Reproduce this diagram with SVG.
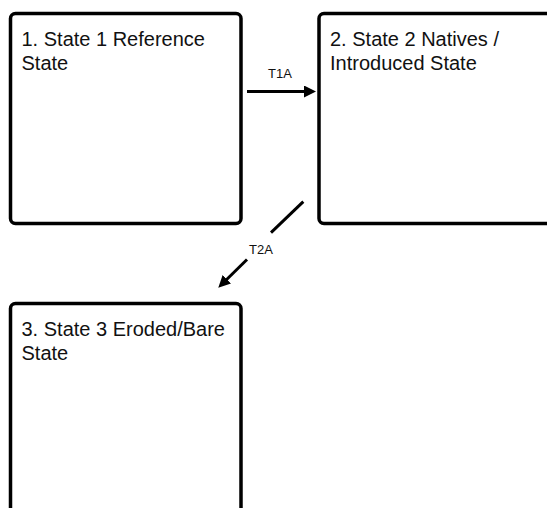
<svg xmlns="http://www.w3.org/2000/svg" width="547" height="508" viewBox="0 0 547 508">
<style>
.box{fill:#fff;stroke:#000;stroke-width:3.5}
.t{font-family:"Liberation Sans",Arial,sans-serif;font-size:20px;fill:#111}
.lbl{font-family:"Liberation Sans",Arial,sans-serif;font-size:13px;fill:#111;text-anchor:middle}
.c{stroke:#000;stroke-width:3;fill:none}
</style>
<defs>
<marker id="ah" markerUnits="userSpaceOnUse" markerWidth="12" markerHeight="12" viewBox="0 0 12 12" refX="2" refY="6" orient="auto">
<path d="M0,0 L12,6 L0,12 z" fill="#000"/>
</marker>
</defs>
<rect width="547" height="508" fill="#fff"/>
<g id="state1">
<rect class="box" x="10.5" y="13.5" width="230.5" height="210" rx="5"/>
<text class="t" x="21.5" y="45.5">1. State 1 Reference</text>
<text class="t" x="21.5" y="70">State</text>
</g>
<g id="state2">
<rect class="box" x="319" y="13.5" width="233" height="210" rx="5"/>
<text class="t" x="330" y="45.5">2. State 2 Natives /</text>
<text class="t" x="330" y="70">Introduced State</text>
</g>
<g id="state3">
<rect class="box" x="10.5" y="303.5" width="230.5" height="215" rx="5"/>
<text class="t" x="21.5" y="335.5">3. State 3 Eroded/Bare</text>
<text class="t" x="21.5" y="360">State</text>
</g>
<g id="connectors">
<line class="c" x1="247" y1="91.5" x2="306" y2="91.5" marker-end="url(#ah)"/>
<text class="lbl" x="280" y="77.5">T1A</text>
<line class="c" x1="303.3" y1="201.7" x2="271" y2="232.7"/>
<line class="c" x1="247" y1="259.5" x2="225.4" y2="280.7" marker-end="url(#ah)"/>
<text class="lbl" x="261" y="253.5">T2A</text>
</g>
</svg>
